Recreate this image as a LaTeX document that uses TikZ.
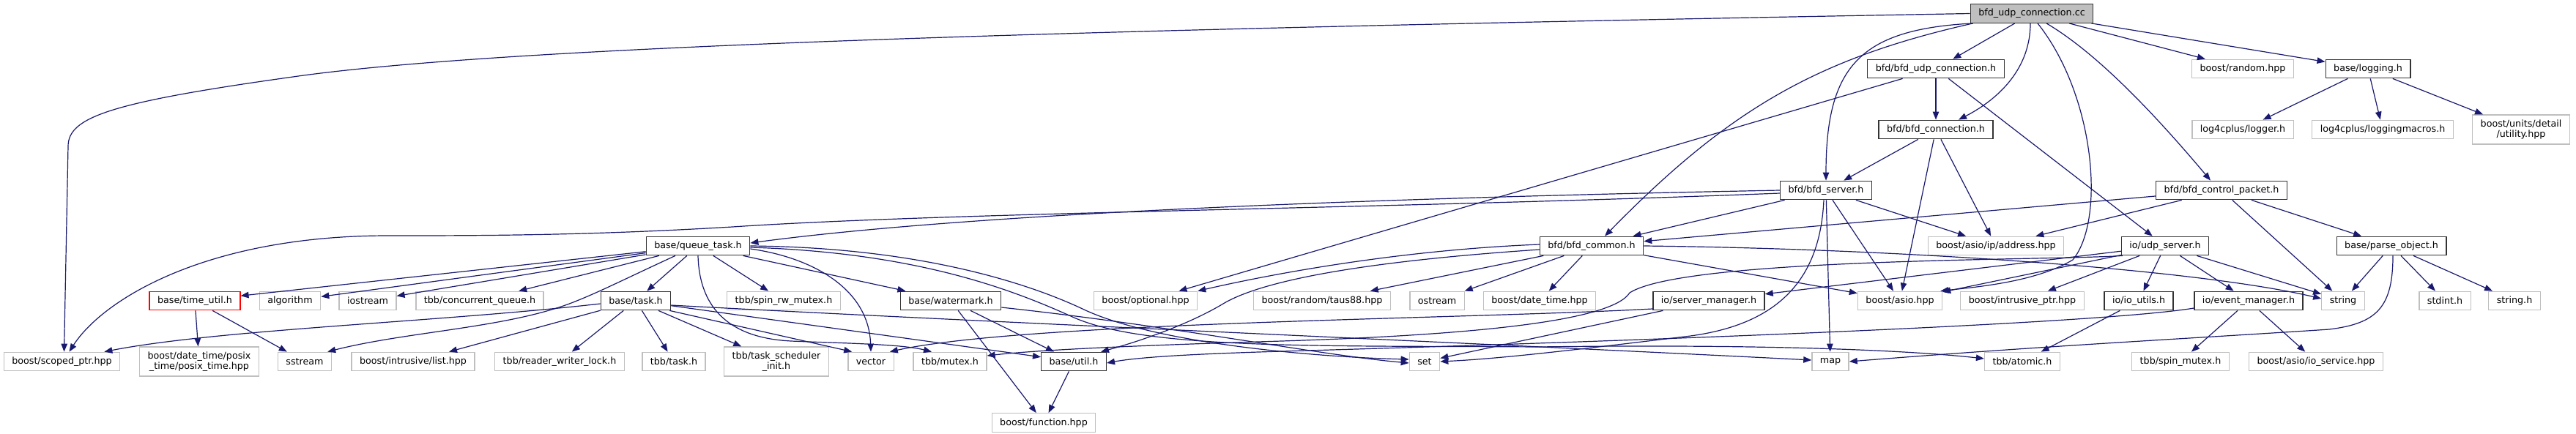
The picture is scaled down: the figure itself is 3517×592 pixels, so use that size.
\documentclass[tikz,border=0pt]{standalone}
\usepackage{fontspec}
\setmainfont{DejaVu Sans}
\usetikzlibrary{arrows.meta}
\definecolor{edgeblue}{HTML}{191970}
\definecolor{grey75}{HTML}{BFBFBF}
\tikzset{
  inc/.style={draw=edgeblue, line width=1.2pt, -{Triangle[length=11pt,width=8.5pt]}},
  docbox/.style={draw=black!80, line width=1.3pt, inner xsep=11pt, inner ysep=3pt,
    minimum height=25.5pt, font=\fontsize{12.7pt}{14.5pt}\selectfont},
  extbox/.style={docbox, draw=grey75},
  truncbox/.style={docbox, draw=red},
  rootbox/.style={docbox, fill=grey75},
  twoline/.style={align=center, minimum height=40pt},
}
\begin{document}
\begin{tikzpicture}[x=1pt, y=-1pt]
  \useasboundingbox (0,0) rectangle (3517,592);
  % source file
  \node[rootbox] (cc) at (2774,18.5) {bfd\_udp\_connection.cc};
  % first level
  \node[docbox] (udpconn) at (2643,94) {bfd/bfd\_udp\_connection.h};
  \node[extbox] (random) at (3062,94) {boost/random.hpp};
  \node[docbox] (logging) at (3233,94) {base/logging.h};
  \node[docbox] (conn) at (2643,177) {bfd/bfd\_connection.h};
  \node[extbox] (logger) at (3062,177) {log4cplus/logger.h};
  \node[extbox] (macros) at (3253,177) {log4cplus/loggingmacros.h};
  \node[extbox, twoline] (units) at (3442,177) {boost/units/detail\\/utility.hpp};
  \node[docbox] (server) at (2493,260) {bfd/bfd\_server.h};
  \node[docbox] (ctrlpkt) at (3033,260) {bfd/bfd\_control\_packet.h};
  % middle row
  \node[docbox] (queue) at (953,336) {base/queue\_task.h};
  \node[docbox] (common) at (2173,336) {bfd/bfd\_common.h};
  \node[extbox] (address) at (2725,336) {boost/asio/ip/address.hpp};
  \node[docbox] (udpsrv) at (2956,336) {io/udp\_server.h};
  \node[docbox] (parse) at (3265,336) {base/parse\_object.h};
  % second lowest row
  \node[truncbox] (timeutil) at (266,411) {base/time\_util.h};
  \node[extbox] (algorithm) at (396,411) {algorithm};
  \node[extbox] (iostream) at (502,411) {iostream};
  \node[extbox] (concurrent) at (655,411) {tbb/concurrent\_queue.h};
  \node[docbox] (task) at (868,411) {base/task.h};
  \node[extbox] (spinrw) at (1070,411) {tbb/spin\_rw\_mutex.h};
  \node[docbox] (watermark) at (1298,411) {base/watermark.h};
  \node[extbox] (optional) at (1564,411) {boost/optional.hpp};
  \node[extbox] (taus) at (1805,411) {boost/random/taus88.hpp};
  \node[extbox] (ostream) at (1962,411) {ostream};
  \node[extbox] (datetime) at (2102,411) {boost/date\_time.hpp};
  \node[docbox] (servermgr) at (2333,411) {io/server\_manager.h};
  \node[extbox] (asio) at (2594,411) {boost/asio.hpp};
  \node[extbox] (intrusiveptr) at (2761,411) {boost/intrusive\_ptr.hpp};
  \node[docbox] (ioutils) at (2920,411) {io/io\_utils.h};
  \node[docbox] (eventmgr) at (3070,411) {io/event\_manager.h};
  \node[extbox] (string) at (3199,411) {string};
  \node[extbox] (stdint) at (3338,411) {stdint.h};
  \node[extbox] (stringh) at (3433,411) {string.h};
  % bottom rows
  \node[extbox] (scoped) at (84.5,494) {boost/scoped\_ptr.hpp};
  \node[extbox, twoline] (posix) at (272,494) {boost/date\_time/posix\\\_time/posix\_time.hpp};
  \node[extbox] (sstream) at (416,494) {sstream};
  \node[extbox] (intrlist) at (564,494) {boost/intrusive/list.hpp};
  \node[extbox] (rwlock) at (764,494) {tbb/reader\_writer\_lock.h};
  \node[extbox] (tbbtask) at (920,494) {tbb/task.h};
  \node[extbox, twoline] (schedinit) at (1060,494) {tbb/task\_scheduler\\\_init.h};
  \node[extbox] (vector) at (1189,494) {vector};
  \node[extbox] (tbbmutex) at (1297,494) {tbb/mutex.h};
  \node[docbox] (util) at (1466,494) {base/util.h};
  \node[extbox] (set) at (1945,494) {set};
  \node[extbox] (map) at (2499,494) {map};
  \node[extbox] (tbbatomic) at (2761,494) {tbb/atomic.h};
  \node[extbox] (spinmutex) at (2977,494) {tbb/spin\_mutex.h};
  \node[extbox] (ioservice) at (3162,494) {boost/asio/io\_service.hpp};
  \node[extbox] (function) at (1425,577.5) {boost/function.hpp};

  % bfd_udp_connection.cc
  \draw[inc] (cc.west) .. controls (1500,40) and (700,62) .. (400,105) .. controls (150,140) and (93,160) .. (93,200) -- ([xshift=3pt]scoped.north);
  \draw[inc] (cc) -- (udpconn);
  \draw[inc] ([xshift=4pt]cc.south west) .. controls (2540,40) and (2493,90) .. (server.north);
  \draw[inc] ([xshift=4pt]cc.south west) .. controls (2480,80) and (2360,150) .. ([xshift=18pt]common.north);
  \draw[inc] ([xshift=-2pt]cc.south) .. controls (2772,100) and (2720,140) .. ([xshift=31pt]conn.north);
  \draw[inc] ([xshift=8pt]cc.south) .. controls (2860,130) and (2875,300) .. (2830,355) .. controls (2780,385) and (2700,392) .. ([xshift=-3pt]asio.north east);
  \draw[inc] ([xshift=20pt]cc.south) .. controls (2850,65) and (2920,130) .. ([xshift=-15pt]ctrlpkt.north);
  \draw[inc] (cc) -- (random);
  \draw[inc] (cc) -- (logging);
  % bfd/bfd_udp_connection.h
  \draw[inc] (udpconn) -- (conn);
  \draw[inc] (udpconn) -- (optional);
  \draw[inc] (udpconn) -- (udpsrv);
  % bfd/bfd_connection.h
  \draw[inc] (conn) -- (server);
  \draw[inc] (conn) -- (asio);
  \draw[inc] (conn) -- (address);
  % bfd/bfd_server.h
  \draw[inc] (server.west) .. controls (1800,272) and (1300,295) .. ([yshift=4pt]queue.east);
  \draw[inc] ([yshift=-4pt]server.west) .. controls (1900,285) and (1300,290) .. (1000,310) .. controls (800,322) and (650,322) .. (530,322) .. controls (280,322) and (140,410) .. ([xshift=10pt]scoped.north);
  \draw[inc] (server) -- (common);
  \draw[inc] (server) -- (address);
  \draw[inc] (server) -- (asio);
  \draw[inc] (server) -- (map);
  \draw[inc] ([xshift=-3pt]server.south) .. controls (2485,380) and (2430,445) .. (2300,460) .. controls (2150,478) and (2050,490) .. (set.east);
  % bfd/bfd_control_packet.h
  \draw[inc] (ctrlpkt) -- (common);
  \draw[inc] (ctrlpkt) -- (address);
  \draw[inc] (ctrlpkt) -- (string);
  \draw[inc] (ctrlpkt) -- (parse);
  % base/logging.h
  \draw[inc] (logging) -- (logger);
  \draw[inc] (logging) -- (macros);
  \draw[inc] (logging) -- (units);
  % bfd/bfd_common.h
  \draw[inc] ([yshift=2pt]common.west) .. controls (1900,342) and (1720,378) .. (optional.north east);
  \draw[inc] ([yshift=-5pt]common.west) .. controls (1850,358) and (1720,385) .. (1670,415) .. controls (1620,445) and (1550,468) .. ([xshift=-8pt]util.north east);
  \draw[inc] (common) -- (taus);
  \draw[inc] (common) -- (ostream);
  \draw[inc] (common) -- (datetime);
  \draw[inc] (common.east) .. controls (2600,340) and (3000,368) .. ([yshift=3pt]string.west);
  \draw[inc] (common) -- (asio);
  % io/udp_server.h
  \draw[inc] (udpsrv) -- (servermgr);
  \draw[inc] (udpsrv) -- (asio);
  \draw[inc] (udpsrv) -- (intrusiveptr);
  \draw[inc] (udpsrv) -- (ioutils);
  \draw[inc] (udpsrv) -- (eventmgr);
  \draw[inc] (udpsrv) -- (string);
  \draw[inc] ([xshift=2pt]udpsrv.south west) .. controls (2800,356) and (2300,352) .. (2225,400) .. controls (2200,440) and (2000,458) .. (1750,466) .. controls (1550,472) and (1420,478) .. ([yshift=8pt]tbbmutex.east);
  % io/server_manager.h
  \draw[inc] ([yshift=-11pt]servermgr.west) .. controls (2000,436) and (1400,440) .. ([xshift=-6pt]vector.north east);
  \draw[inc] (servermgr) -- (set);
  % io/io_utils.h and io/event_manager.h
  \draw[inc] (ioutils) -- (tbbatomic);
  \draw[inc] (eventmgr) -- (spinmutex);
  \draw[inc] (eventmgr) -- (ioservice);
  \draw[inc] ([yshift=-10pt]eventmgr.west) .. controls (2850,445) and (2100,470) .. (1750,480) .. controls (1650,483) and (1560,487) .. ([yshift=-2pt]util.east);
  % base/parse_object.h
  \draw[inc] (parse) -- (string);
  \draw[inc] (parse) -- (stdint);
  \draw[inc] (parse) -- (stringh);
  \draw[inc] ([xshift=2pt]parse.south) .. controls (3267,420) and (3245,442) .. (3180,450) .. controls (3000,462) and (2800,472) .. (map.east);
  % base/queue_task.h
  \draw[inc] (queue) -- (timeutil);
  \draw[inc] (queue) -- (algorithm);
  \draw[inc] (queue) -- (iostream);
  \draw[inc] (queue) -- (concurrent);
  \draw[inc] ([xshift=-31pt]queue.south) .. controls (860,378) and (820,398) .. (790,410) .. controls (700,448) and (560,452) .. ([xshift=-6pt]sstream.north east);
  \draw[inc] (queue) -- (task);
  \draw[inc] (queue) -- (spinrw);
  \draw[inc] (queue) -- (watermark);
  \draw[inc] ([yshift=-4pt]queue.east) .. controls (1110,352) and (1186,395) .. (vector.north);
  \draw[inc] (queue.east) .. controls (1250,338) and (1400,385) .. (1480,423) .. controls (1580,470) and (1800,488) .. ([yshift=3pt]set.west);
  \draw[inc] ([yshift=-2pt]queue.east) .. controls (1250,345) and (1380,395) .. (1462,432) .. controls (1560,478) and (1800,472) .. (2100,474) .. controls (2400,470) and (2600,478) .. ([yshift=4pt]tbbatomic.west);
  \draw[inc] (queue.south) .. controls (955,425) and (1000,462) .. (1080,466) .. controls (1150,469) and (1230,470) .. ([xshift=-25pt]tbbmutex.north);
  % base/task.h
  \draw[inc] ([yshift=-4pt]task.west) .. controls (600,440) and (300,450) .. ([xshift=-22pt]scoped.north east);
  \draw[inc] (task) -- (intrlist);
  \draw[inc] (task) -- (rwlock);
  \draw[inc] (task) -- (tbbtask);
  \draw[inc] (task) -- (schedinit);
  \draw[inc] ([xshift=-2pt]task.south east) -- ([xshift=6pt]vector.north west);
  \draw[inc] (task) -- (util);
  \draw[inc] ([yshift=-6pt]task.east) .. controls (1300,438) and (2000,468) .. ([yshift=2pt]map.west);
  % base/watermark.h
  \draw[inc] ([yshift=-9pt]watermark.east) .. controls (1600,445) and (1800,485) .. ([yshift=-2pt]set.west);
  \draw[inc] (watermark) -- (util);
  \draw[inc] (watermark) -- (function);
  % base/util.h and base/time_util.h
  \draw[inc] (util) -- (function);
  \draw[inc] (timeutil) -- (posix);
  \draw[inc] (timeutil) -- (sstream);
\end{tikzpicture}
\end{document}
